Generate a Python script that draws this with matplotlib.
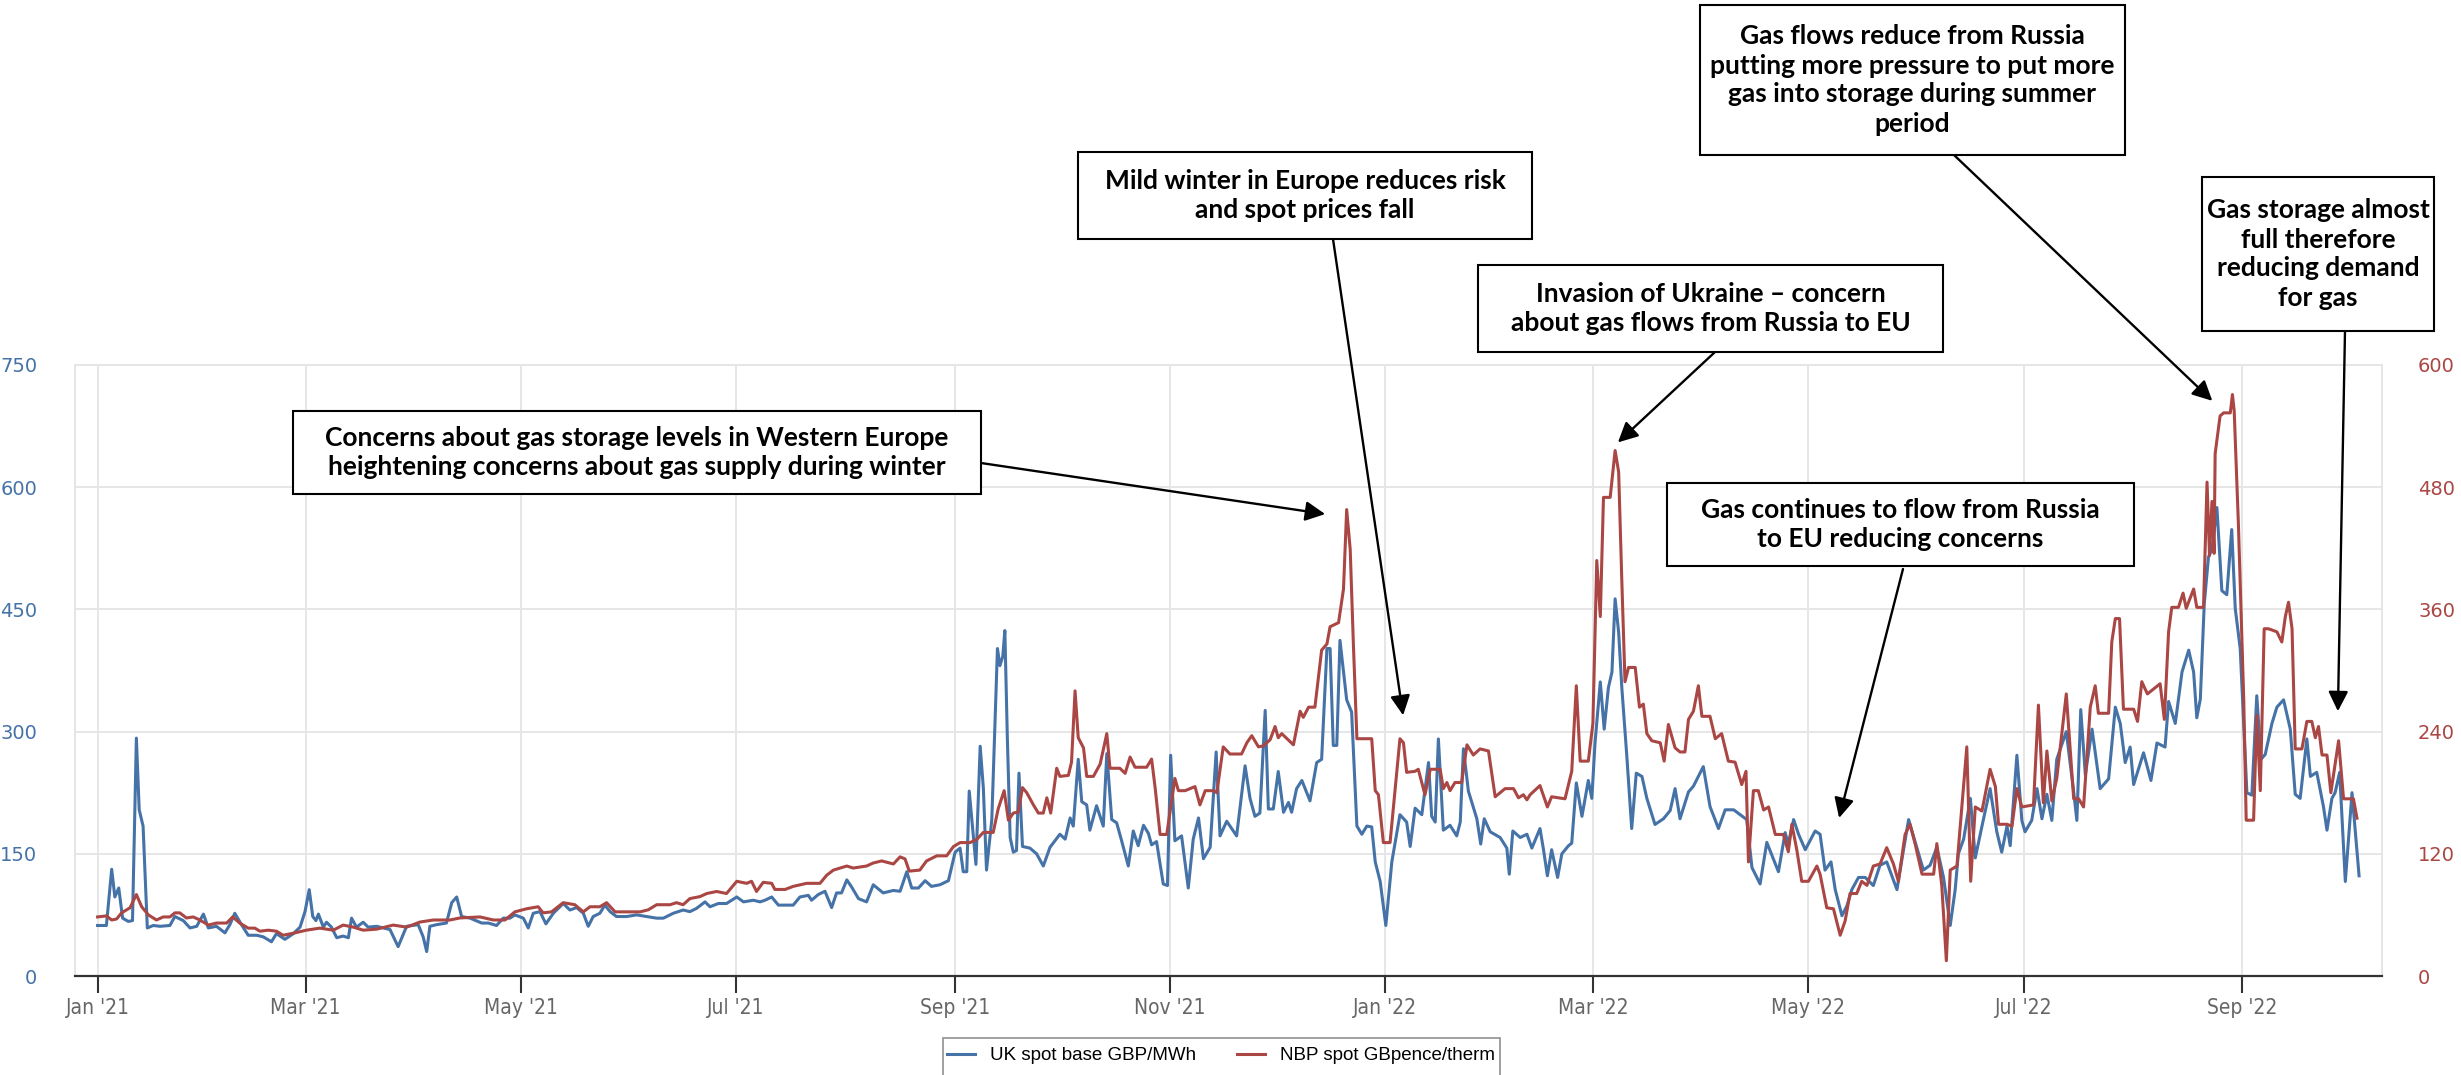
import numpy as np
import pandas as pd
import matplotlib
matplotlib.use('Agg')
import matplotlib.pyplot as plt
import matplotlib.dates as mdates
from matplotlib.patches import Rectangle

W, H = 2461, 1075
START = pd.Timestamp('2021-01-01')

# ---------- data (day offset from 1 Jan 2021, value) ----------
# UK spot base, GBP/MWh (left axis)
uk_day = [0.0, 2.5, 4.0, 4.9, 6.0, 7.1, 8.7, 9.9, 11.0, 11.8, 12.9, 14.1, 15.8, 17.7, 20.5, 21.9, 24.3, 26.2, 28.1, 30.0,
          31.4, 33.7, 36.1, 37.5, 38.9, 40.8, 42.7, 45.1, 47.0, 49.3, 50.7, 53.1, 55.5, 57.4, 58.8, 60.0, 61.0, 61.9, 62.6,
          64.0, 64.9, 66.3, 67.8, 69.6, 71.1, 72.0, 73.4, 75.3, 76.7, 79.1, 82.9, 85.2, 87.6, 90.9, 92.3, 93.3, 94.2, 96.1,
          98.9, 100.4, 101.8, 103.2, 105.6,
          108.9, 110.8, 113.1, 115.0, 116.9, 118.3, 120.7, 122.1, 123.5, 125.4, 127.1, 129.2, 132.0, 133.9, 135.8, 137.7,
          139.1, 140.5, 142.4, 143.8, 145.3, 147.1, 150.0, 152.8, 155.6, 158.5, 160.4, 163.2, 166.0, 167.9, 169.8, 172.2,
          173.6, 176.0, 178.3, 181.2, 183.1, 185.9, 187.8, 189.2, 191.1, 193.0, 195.3, 197.2, 199.1, 201.5, 202.4, 204.3,
          206.2, 208.1, 209.5, 210.9, 212.4, 213.8, 215.7, 218.0, 219.9,
          222.7, 225.6, 227.5, 229.4, 230.8, 232.7, 234.6, 236.4, 238.8, 241.2, 243.1, 244.5, 245.4, 246.4, 247.1, 248.3,
          249.0, 250.2, 251.1, 252.0, 253.5, 255.1, 255.8, 256.6, 257.2, 257.9, 258.7, 259.6, 260.5, 261.2, 262.2, 264.3,
          266.2, 268.1, 270.0, 272.8, 274.3, 275.7, 276.6, 278.0, 279.0, 280.4, 281.3, 283.2, 285.1, 286.1, 287.5, 288.9,
          290.3, 292.2, 293.6, 295.0, 296.5, 297.9, 298.8, 300.2, 302.1, 303.3, 304.2, 305.4, 307.3, 309.2, 310.6, 312.1,
          313.5, 315.4, 317.1, 318.2, 320.1, 322.9, 325.3, 326.7, 328.1, 329.5, 331.0, 331.9, 333.3, 334.7,
          336.2, 337.6, 338.5, 339.9, 341.4, 343.7, 345.6, 347.0, 348.5, 349.4, 350.3, 351.3, 352.2, 354.1, 355.5, 357.0,
          358.4, 359.8, 361.2, 362.2, 363.6, 365.2, 366.9, 369.2, 371.1, 372.1, 373.5, 375.4, 376.3, 377.3, 378.2, 379.2,
          380.1, 381.5, 383.4, 385.3, 386.3, 387.2, 388.6, 391.0, 392.1, 393.1, 394.8, 397.6, 399.5, 400.2, 401.2, 403.3,
          405.2, 406.6, 408.9, 409.9, 411.0, 412.2, 413.9, 415.1, 417.0, 417.9, 419.2, 420.8, 422.6, 423.6, 424.5, 426.0,
          427.1, 428.3, 429.3, 430.2, 431.2, 432.1, 433.5, 434.9, 436.2, 437.8, 439.2, 441.5, 443.9, 445.8, 447.2, 448.6,
          451.0, 452.4, 455.2, 457.1, 459.5, 461.4, 463.8, 467.5, 469.0, 471.3, 473.2, 476.5, 478.4, 479.3, 480.8, 482.2,
          484.1, 486.9, 488.3, 489.7, 491.4, 492.6, 494.5, 495.9, 497.3, 499.2, 501.1, 503.4, 505.3, 507.2, 510.1, 512.0,
          513.4, 515.7, 517.6, 519.5, 521.4, 523.3, 525.2, 526.6, 527.5, 529.0, 530.9, 532.3, 534.2, 536.5, 538.4, 539.8,
          541.3, 542.2, 544.1, 545.5, 546.4, 548.3, 549.8, 551.2, 552.6, 554.0, 555.4, 558.1, 560.2,
          561.1, 562.2, 563.5, 565.4, 567.7, 570.1, 572.0, 573.4, 574.8, 576.2, 577.2, 580.0, 582.1, 583.8, 586.1, 587.1,
          589.0, 590.9, 592.8, 594.2, 595.1, 596.1, 597.2, 598.4, 599.4, 600.8, 602.2, 603.6, 605.0, 606.0, 607.4, 609.3,
          610.7, 612.1, 613.3, 614.5, 616.4, 617.8, 619.7, 621.6, 623.0, 624.4, 626.3, 627.3, 629.1, 631.0, 632.0, 633.4,
          634.3, 635.6, 637.2, 639.1, 641.1]
uk_val = [62, 62, 131, 97, 108, 71, 67, 68, 292, 204, 184, 59, 62, 61, 62, 73, 68, 59, 61, 76,
          59, 61, 53, 63, 77, 63, 50, 50, 48, 42, 52, 45, 52, 60, 79, 106, 73, 68, 76,
          60, 66, 60, 47, 49, 47, 71, 60, 66, 60, 61, 57, 36, 61, 63, 48, 30, 61, 63,
          65, 90, 97, 73, 71,
          65, 65, 62, 71, 71, 75, 71, 59, 77, 79, 64, 77, 89, 81, 84, 77,
          61, 73, 77, 87, 79, 73, 73, 75, 73, 71, 71, 77, 81, 79, 83, 91,
          85, 89, 89, 97, 91, 93, 91, 93, 97, 87, 87, 87, 97, 99, 93, 100,
          104, 84, 102, 102, 118, 109, 95, 91, 112,
          102, 105, 104, 128, 108, 108, 117, 110, 112, 117, 152, 157, 128, 128, 227, 170,
          137, 282, 231, 130, 192, 402, 381, 392, 424, 293, 170, 152, 154, 249, 159, 157,
          150, 135, 158, 174, 168, 194, 184, 266, 214, 210, 179, 209, 184, 273, 192, 188,
          166, 135, 178, 160, 185, 175, 161, 165, 113, 111, 271, 166, 172, 108, 168, 194,
          144, 158, 275, 172, 190, 172, 258, 218, 196, 200, 326, 205, 205, 251,
          201, 213, 201, 230, 240, 215, 262, 266, 402, 402, 283, 283, 412, 339, 324, 184,
          174, 184, 183, 140, 116, 62, 140, 198, 189, 159, 206, 198, 228, 262, 196, 189,
          291, 179, 185, 172, 189, 279, 227, 193, 162, 193, 177, 170, 157, 125, 178, 170,
          174, 157, 181, 155, 123, 155, 121, 150, 160, 163, 237, 196, 240, 218, 286, 361,
          303, 354, 373, 463, 422, 354, 271, 181, 249, 245, 218, 186, 193, 203, 230, 193,
          226, 233, 257, 208, 181, 204, 204, 192, 133, 113, 164, 128, 176, 162, 192, 174,
          155, 178, 174, 130, 140, 106, 74, 86, 106, 121, 121, 111, 136, 140, 106, 156,
          192, 158, 130, 136, 158, 121, 62, 106, 150, 168, 218, 145, 184, 230, 177, 152,
          184, 160, 271, 191, 177, 191, 230, 193, 223, 191, 266, 300, 226,
          191, 327, 247, 303, 230, 242, 330, 310, 262, 281, 235, 274, 240, 286, 281, 337,
          310, 373, 400, 373, 317, 340, 456, 514, 524, 575, 473, 468, 548, 451, 402, 225,
          222, 344, 266, 272, 310, 330, 339, 303, 223, 218, 291, 245, 250, 208, 179, 218,
          225, 250, 116, 225, 123]

# NBP spot, GBpence/therm (right axis)
nbp_day = [0.0, 2.5, 4.0, 5.4, 6.8, 9.2, 11.0, 12.5, 14.4, 16.7, 18.6, 20.5, 21.9, 23.3, 25.2, 27.1, 29.0, 31.4, 33.7,
           36.6, 38.3, 40.3, 42.7, 44.6, 46.0, 48.4, 50.7, 52.6, 55.5, 59.2, 63.0, 66.8, 69.6, 72.5, 75.3, 79.1, 83.8,
           87.6, 91.4, 95.2, 99.9, 102.7, 108.4,
           112.2, 115.5, 118.3, 121.6, 124.9, 126.3, 128.7, 132.0, 135.3, 137.7, 139.6, 142.4, 144.3, 146.7, 150.0, 153.8,
           156.1, 158.5, 162.3, 164.1, 166.0, 167.9, 170.8, 172.7, 175.5, 178.3, 181.2, 184.0, 185.4, 186.8, 188.7, 191.1,
           192.0, 194.9, 197.2, 201.0, 204.8, 206.7, 208.6, 212.4, 214.2, 218.0, 219.9,
           222.3, 225.6, 227.5, 228.9, 230.1, 233.1, 235.0, 237.9, 240.7, 242.6, 244.5, 247.3, 249.2, 251.1, 253.9, 255.3,
           257.0, 258.2, 259.6, 261.0, 262.2, 263.4, 265.3, 266.7, 268.1, 269.1, 270.2, 271.9, 272.8, 275.2, 276.1, 277.1,
           278.0, 279.5, 280.4, 282.3, 284.2, 286.1, 287.0, 289.8, 291.3, 292.7, 294.1, 297.4, 298.8, 299.8, 301.2, 303.1,
           305.4, 306.4, 308.3, 311.1, 312.5, 314.0, 316.3, 317.3, 319.1, 321.0, 324.3, 325.8, 327.2, 329.1, 330.5, 332.4,
           333.8, 334.7,
           335.7, 339.0, 340.9, 341.8, 343.3, 345.1, 347.0, 348.5, 349.4, 351.8, 353.2, 354.1, 355.1, 356.0, 357.0, 361.2,
           362.2, 363.1, 364.5, 366.4, 369.2, 370.2, 371.1, 373.5, 374.4, 376.3, 377.8, 380.6, 381.5, 382.5, 383.4, 384.8,
           386.7, 388.2, 390.0, 391.9, 394.3, 396.2, 399.0, 401.4, 402.8, 404.2, 405.2, 406.1, 408.9, 411.0, 412.2, 416.0,
           417.9, 419.2, 420.3, 422.6, 423.9, 425.0, 426.0, 426.9, 428.8, 430.2, 431.2, 432.1, 433.0, 434.0, 435.9, 437.1,
           438.2, 439.2, 440.6, 443.0, 444.1, 445.3, 447.2, 448.6,
           450.0, 451.0, 452.4, 453.8, 454.8, 457.1, 458.6, 460.4, 462.3, 464.2, 466.1, 467.3, 468.0, 469.4, 470.8, 472.3,
           473.7, 475.6, 477.9, 479.3, 480.3, 481.7, 483.1, 485.0, 487.4, 488.3, 490.2, 492.1, 494.0, 495.4, 496.8, 498.7,
           500.1, 501.6, 503.4, 505.3, 507.2, 509.1, 510.5, 512.4, 513.8, 515.3, 517.2, 520.5, 521.4, 522.8, 524.1, 525.2,
           527.1, 528.5, 529.9, 531.0, 532.3, 534.2, 536.5, 538.0, 538.9, 541.3, 542.7, 544.1, 545.5, 548.8, 550.2, 551.6,
           552.6, 554.0, 555.4, 558.1, 560.2,
           561.6, 563.0, 564.9, 566.3, 567.2, 570.1, 571.0, 572.0, 573.2, 574.3, 577.2, 578.3, 579.5, 581.1, 584.7, 585.9,
           587.1, 588.0, 589.9, 591.2, 592.1, 594.2, 595.1, 597.0, 598.0, 598.7, 599.4, 600.0, 600.3, 601.7, 602.7, 604.6,
           605.2, 605.7, 606.9, 608.4, 609.1, 611.2, 612.1, 613.1, 614.2, 615.4, 617.8, 619.2, 620.2, 621.1, 622.1, 623.0,
           624.9, 626.3, 627.7, 628.7, 629.6, 630.6, 632.0, 633.1, 635.3, 636.7, 638.6, 639.5, 640.5]
nbp_val = [58, 59, 55, 56, 62, 67, 80, 68, 60, 55, 58, 58, 62, 62, 57, 58, 55, 50, 52,
           52, 58, 52, 47, 47, 44, 45, 44, 40, 42, 45, 47, 45, 50, 48, 45, 46, 50,
           48, 53, 55, 55, 57, 58,
           55, 55, 63, 66, 68, 62, 63, 72, 70, 63, 68, 68, 72, 63, 63, 63,
           65, 70, 70, 72, 70, 76, 78, 81, 83, 81, 93, 91, 93, 83, 92, 91,
           85, 85, 88, 91, 91, 99, 104, 108, 106, 108, 111,
           113, 110, 117, 115, 103, 104, 113, 118, 118, 127, 131, 131, 134, 141, 141, 164,
           182, 153, 160, 161, 185, 180, 168, 160, 160, 175, 160, 204, 196, 197, 210, 280,
           234, 224, 196, 196, 208, 238, 204, 204, 199, 215, 205, 205, 213, 185, 139, 139,
           194, 182, 182, 186, 168, 182, 182, 180, 225, 218, 218, 229, 236, 225, 226, 232,
           245, 234,
           238, 227, 260, 254, 264, 264, 320, 326, 343, 347, 380, 458, 419, 326, 233, 233,
           182, 178, 131, 131, 233, 229, 200, 201, 203, 178, 203, 203, 184, 190, 182, 190,
           190, 227, 217, 223, 221, 176, 184, 184, 175, 178, 173, 178, 187, 166, 176, 174,
           201, 285, 211, 211, 248, 408, 353, 470, 470, 516, 495, 388, 289, 303, 303, 264,
           267, 238, 231, 229, 211, 247, 224, 220,
           220, 252, 260, 285, 255, 255, 233, 238, 211, 210, 188, 201, 112, 182, 182, 163,
           166, 139, 139, 122, 149, 124, 93, 93, 108, 100, 67, 66, 40, 54, 81, 81,
           93, 89, 108, 110, 126, 110, 93, 139, 149, 129, 100, 100, 130, 89, 15, 104,
           108, 166, 225, 93, 166, 162, 203, 186, 149, 149, 147, 184, 166, 168, 266, 170,
           221, 172, 194, 277, 174,
           174, 166, 264, 285, 258, 258, 328, 351, 351, 262, 262, 250, 289, 277, 287, 252,
           338, 362, 362, 376, 361, 380, 362, 362, 485, 413, 466, 415, 513, 550, 553, 553,
           571, 555, 443, 272, 153, 153, 256, 182, 341, 341, 338, 328, 353, 367, 341, 223,
           223, 250, 250, 234, 245, 217, 217, 180, 231, 174, 174, 174, 155]

series_names = ['UK spot base GBP/MWh', 'NBP spot GBpence/therm']

# annotations: text, box (left, top, right, bottom px), arrow tail (px), arrow tip (day, GBP/MWh)
note_text = [
    'Concerns about gas storage levels in Western Europe\nheightening concerns about gas supply during winter',
    'Mild winter in Europe reduces risk\nand spot prices fall',
    'Invasion of Ukraine \u2013 concern\nabout gas flows from Russia to EU',
    'Gas flows reduce from Russia\nputting more pressure to put more\ngas into storage during summer\nperiod',
    'Gas continues to flow from Russia\nto EU reducing concerns',
    'Gas storage almost\nfull therefore\nreducing demand\nfor gas',
]
note_box = [(293, 411, 981, 494), (1078, 152, 1532, 239), (1478, 265, 1943, 352),
            (1700, 5, 2125, 155), (1667, 483, 2134, 566), (2202, 177, 2434, 331)]
note_tail = [(981, 463), (1333, 239), (1715, 352), (1954, 155), (1903, 569), (2345, 331)]
note_tip_day = [348.0, 370.1, 431.0, 599.5, 493.7, 635.1]
note_tip_val = [567, 320, 655, 706, 194, 325]

BLUE = '#4572A7'
RED = '#AA4643'
GRID = '#e6e6e6'

uk_dates = START + pd.to_timedelta(uk_day, unit='D')
nbp_dates = START + pd.to_timedelta(nbp_day, unit='D')

fig = plt.figure(figsize=(W / 100, H / 100), dpi=100)
ax = fig.add_axes([75 / W, 1 - 976 / H, (2382 - 75) / W, (976 - 365) / H])
ax2 = ax.twinx()

l1, = ax.plot(uk_dates, uk_val, color=BLUE, lw=2.2, solid_joinstyle='round')
l2, = ax2.plot(nbp_dates, nbp_val, color=RED, lw=2.2, solid_joinstyle='round')

ax.set_xlim(START - pd.Timedelta(days=6.4), START + pd.Timedelta(days=647.6))
ax.set_ylim(0, 750)
ax2.set_ylim(0, 600)
ax.set_yticks(range(0, 751, 150))
ax2.set_yticks(range(0, 601, 120))

ticks = pd.date_range('2021-01-01', '2022-09-01', freq='2MS')
ax.set_xticks(ticks)
ax.set_xticklabels([t.strftime("%b '%y") for t in ticks], fontstretch='condensed', fontsize=15, color='#666666')
ax.tick_params(axis='x', length=12, width=1.5, color='#333333', pad=4)
ax.tick_params(axis='y', length=0, pad=27, labelsize=14, labelcolor=BLUE)
ax2.tick_params(axis='y', length=0, pad=26, labelsize=14, labelcolor=RED)

ax.grid(True, color=GRID, lw=1.4)
ax.set_axisbelow(True)
for s in ['left', 'right', 'top']:
    ax.spines[s].set_color(GRID)
    ax.spines[s].set_linewidth(1.4)
ax.spines['bottom'].set_color('#333333')
ax.spines['bottom'].set_linewidth(1.6)
for s in ax2.spines.values():
    s.set_visible(False)

# legend box runs off the bottom edge in the original
fig.patches.append(Rectangle((943 / W, -20 / H), (1500 - 943) / W, (20 + 1075 - 1038) / H,
                             transform=fig.transFigure, facecolor='white', edgecolor='#999999', lw=1.3))
fig.legend([l1, l2], series_names, loc='upper center', bbox_to_anchor=(1221 / W, 1 - 1038 / H),
           ncol=2, frameon=False, borderpad=0.5, borderaxespad=0,
           handlelength=1.5, columnspacing=2.2, prop={'family': 'Liberation Sans', 'size': 13.5})

# ---------- annotations ----------
for i, txt in enumerate(note_text):
    l, t, r, b = note_box[i]
    fig.patches.append(Rectangle((l / W, 1 - b / H), (r - l) / W, (b - t) / H, transform=fig.transFigure,
                                 facecolor='white', edgecolor='black', lw=1.5, zorder=5))
    fig.text((l + r) / 2 / W, 1 - (t + b) / 2 / H, txt, ha='center', va='center', fontsize=19,
             fontweight='bold', family='Lato', linespacing=1.25, zorder=6)
    tip = (mdates.date2num(START + pd.Timedelta(days=note_tip_day[i])), note_tip_val[i])
    ax2.annotate('', xy=tip, xycoords=ax.transData,
                 xytext=(note_tail[i][0] / W, 1 - note_tail[i][1] / H), textcoords='figure fraction',
                 arrowprops=dict(arrowstyle='-|>,head_length=0.6,head_width=0.3', mutation_scale=20,
                                 color='black', lw=1.7, shrinkA=0, shrinkB=0),
                 annotation_clip=False)

fig.savefig('out.png', dpi=100)
